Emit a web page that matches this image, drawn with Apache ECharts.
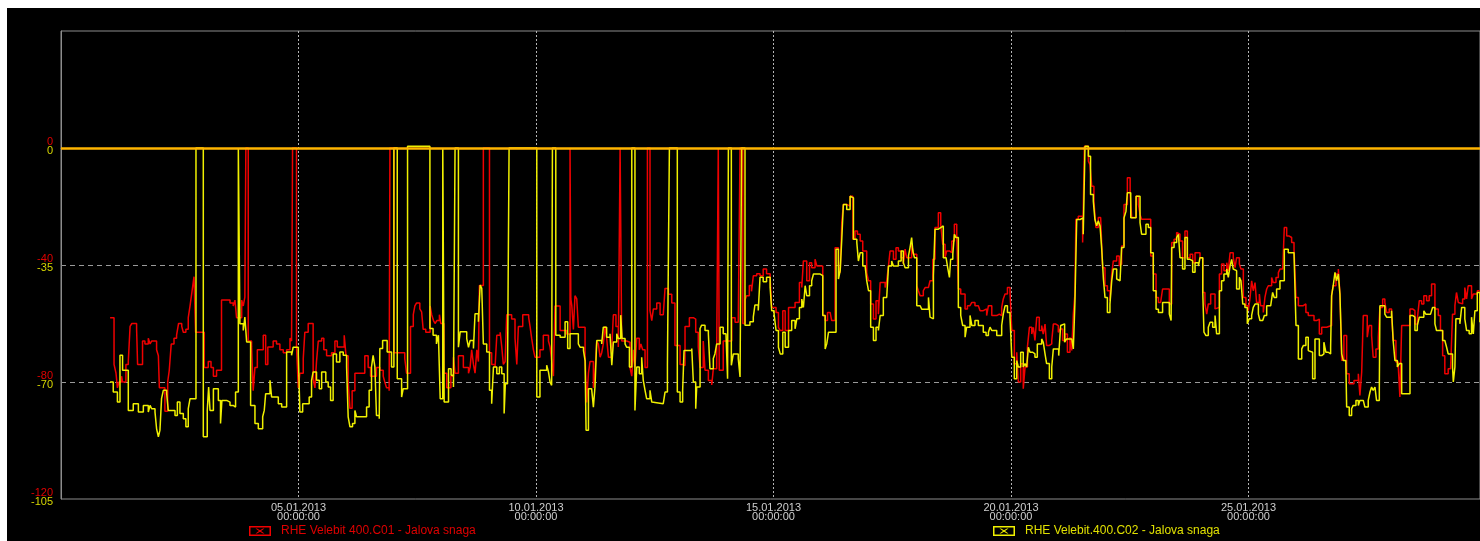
<!DOCTYPE html>
<html>
<head>
<meta charset="utf-8">
<script src="https://cdn.jsdelivr.net/npm/echarts@6/dist/echarts.min.js"></script>
<style>
    body { margin: 0; background: #fff; }
    #chart { position: absolute; left: 7px; top: 8px; width: 1473px; height: 533px; background: #000; }
</style>
</head>
<body>
<div id="chart"></div>
<script>
// hours since 01.01.2013 00:00, value
let redName = 'RHE Velebit 400.C01 - Jalova snaga';
let yellowName = 'RHE Velebit.400.C02 - Jalova snaga';

// the two value axes share the same tick rows
let redTicks = [0, -40, -80, -120];
let yellowTicks = [0, -35, -70, -105];

let redPoints = [
    [0.8,-58],[2.8,-74],[3.8,-77],[4.5,-82],[5.3,-80],[6.6,-78],[7.1,-80],[8.8,-74],[10,-73],[10.9,-61],[11.8,-60],[14.2,-62],[14.7,-74],[17.2,-66],[18.4,-67],[20.1,-65],[21,-67],[21.8,-66],[24.3,-69],[25.2,-71],[25.7,-82],[28.5,-90],[29.9,-80],[30.7,-76],[31.7,-67],[33.1,-65],[34.4,-64],[35.4,-60],[37,-61],[37.8,-63],[39.1,-62],[40.3,-58],[41.2,-54],[42.2,-49],[43.2,-44],[44,-63],[48.4,-75],[50.4,-73],[51.8,-75],[53,-78],[54.6,-76],[57.1,-52],[61.4,-53],[63,-54],[63.9,-52],[64.7,-58],[67.3,-52],[68.1,-54],[68.9,-51],[69.4,0],[70.6,-66],[72.3,-68],[73.1,-83],[74,-75],[75.2,-69],[78.2,-64],[79.4,-74],[80.5,-68],[83.2,-66],[84.9,-67],[86.6,-69],[88.3,-70],[90,-69],[91.7,-65],[92.5,-66],[93,0],[95,-68],[95.9,-82],[96.7,-77],[98.4,-72],[99.2,-63],[100.9,-60],[103.4,-79],[104.3,-82],[105.1,-73],[106,-66],[107.7,-65],[108.8,-69],[110.2,-71],[112.7,-70],[114.4,-66],[115.6,-68],[119.1,-64],[120,-71],[121.1,-80],[122,-89],[123.1,-83],[124.5,-77],[129.5,-71],[131.2,-75],[132.4,-78],[135.4,-75],[137.1,-76],[138.8,-78],[139.6,-80],[140.5,-82],[141.8,-83],[142.2,0],[144.2,-70],[149.7,-72],[150.6,-77],[152.6,-61],[154,-57],[154.8,-54],[155.6,-53],[157.3,-55],[158.2,-56],[159,-62],[160.3,-63],
    [162.5,-54],[163.3,-57],[164.2,-59],[165,-60],[165.9,-59],[167.2,-57],[167.9,-60],[169.5,-77],[170.9,-82],[173,-78],[174.3,-71.5],[175.1,-77],[176.8,-71],[179.3,-75],[181.9,-77],[182.7,-75],[183.5,-69],[184.4,-74],[185.2,-77],[186.1,-69],[186.9,-73],[187.4,-47],[189.4,0],[192.5,-70],[193.6,-74],[195.3,-75],[196.2,-64],[197.9,-63],[198.7,-68],[199.5,-74],[200.4,-73],[201.2,-57],[203.7,-58.5],[205.4,-65],[206.3,-74],[207.1,-61],[209.3,-57],[212.3,-58],[213,-61],[213.8,-65],[214.7,-69],[215.5,-71.5],[218,-69],[219.7,-64],[222.3,-66],[223.1,-68],[223.9,-72.6],[224.8,-78],[225.6,-54],[228.2,-62.4],[231.5,-63.6],[233.2,0],[233.6,-51.6],[234.1,-54],[234.9,-62],[235.7,-50.5],[236.6,-51.6],[237.4,-61.3],[240.8,-71],[241.6,-87],[242.5,-77],[243.3,-73],[245,-82],[245.8,-77],[246.7,-66],[247.5,-67],[248.4,-71.5],[249.2,-70],[250,-67],[250.9,-61],[251.7,-65],[252.6,-71.5],[254.3,-68],[255.1,-57],[256.4,-61],[257.6,-68],[258.5,0],[259.3,-66],[261.8,-66.4],[263.5,-75],[264.4,-78],[265.2,-69],[266,-75],[266.9,-65],[268.2,-69],[269,-67],[269.9,-69],[271.1,-75],[272.3,0],[273.6,-55.6],[274.5,-59],[275.3,-55],[277,-53],[278.7,-57],[280.3,-57],[281.2,-48],[282.9,-50],[284.6,-53],[286.2,-67.5],[288.8,-74],[290.1,-74.4],[291.3,-61],[293.5,-58],[295.5,-58.5],[296.7,-63],[298,-68],[298.9,-75],[300.5,-66],[301.4,-76],[303.1,-79.5],[304.8,-81],[305.6,-75.5],[307.3,-69],[308.1,0],[308.6,-76],[310.6,-66],[314.9,-58],[316.6,-59.6],[318.2,-60],[319.1,0],[320.5,-60],[321.6,-52],[322.4,-50.5],[323.8,-47],[324.9,-49],[325.8,-43.7],[327.5,-43],[329.2,-43.7],[330.8,-41.4],[332.5,-43],
    [334.3,-44.3],[335.1,-54.5],[337.3,-56.2],[338.5,-61.3],[339.4,-62.4],[340.7,-55.6],[341.9,-62.4],[343.6,-54.5],[346.9,-52.8],[349.1,-46],[350.3,-47.7],[351.1,-38.6],[352.8,-45.4],[354.2,-39.2],[355.3,-40.9],[357,-38],[357.9,-40.3],[360.9,-57.3],[362.1,-59],[363.3,-56.2],[364.6,-56.8],[365.4,-59],[367.1,-34.1],[368.8,-40.3],[369.7,-42.6],[370.5,-25.5],[371.3,-19.3],[373,-19.9],[374.7,-16.5],[376.1,-31.2],[377.2,-28.4],[378.4,-29.5],[379.8,-31.8],[381.1,-35.2],[383.1,-42.6],[384,-45.4],[385.1,-53.3],[386.5,-58.5],[387.8,-52.2],[389,-56.8],[389.9,-46],[392.4,-47.7],[393.2,-45.4],[394.1,-40.3],[394.9,-35.2],[396.6,-38],[397.9,-34.1],[399.1,-35.2],[400.5,-37.5],[401.6,-39.7],[402.5,-34.6],[403.3,-37.5],[405.8,-32.9],[406.7,-36.3],[408.4,-47.1],[409.2,-48.8],[410.1,-50.5],[411.7,-48.8],[412.6,-47.7],[414.3,-47.1],[415.1,-45.4],[416.5,-38],[417.6,-27.2],[419.3,-22.1],[420.5,-26.1],[421.5,-32.9],[422.7,-37.5],[423.5,-35.2],[424.9,-35.8],[426.1,-31.8],[427.4,-26.1],[428.6,-30.6],[429.4,-48.2],[430.6,-49.9],[432.8,-55],[434,-53.9],[435.3,-54.5],[436.2,-52.8],[437.8,-53.9],[439.5,-54.5],[440.4,-55.6],[442,-55],[443.7,-57.3],[444.6,-53.9],[446.3,-57.3],[448.8,-56.8],[450.1,-57.3],[451.3,-54.5],[452.1,-51.6],[453,-49.9],[454.2,-47.7],[455.5,-49.4],[456.4,-62.4],[457.7,-73.8],[458.9,-69.8],[459.7,-80],[460.9,-73.8],[462.2,-82.3],[463.1,-74.9],[464.3,-68.1],[465.3,-61.3],[466.5,-63.6],[467.3,-61.3],[468.1,-65.8],[469,-57.9],[470.3,-62.4],[471.5,-60.7],[472.3,-63.6],[473.2,-60.2],[474,-67.5],[475.4,-67],[476.6,-65.8],[477.4,-60.2],[478.7,-60.7],[479.9,-63],[480.8,-61.9],[482.1,-65.8],[483.3,-63.6],[484.5,-69.8],[485.8,-64.7],[486.7,-69.2],[487.5,-56.8],[488.3,-49.9],[488.8,-24.4],[490,-23.3],[492.2,-32.3],[493.1,0.6],[495.1,-4.5],[495.9,-5.7],[496.8,-13.1],[497.9,-18.2],[498.9,-27.2],[500.1,-23.8],[501.3,-24.4],[502.3,-40.9],[503.5,-47.1],[504.7,-48.8],[506,-52.2],[506.9,-43.1],[507.7,-38.6],[509.4,-36.9],[510.7,-40.3],
    [511.1,-39.7],[511.9,-33.5],[513.1,-19.3],[514.8,-10.2],[516.2,-15.9],[517,-23.8],[519.2,-16.5],[520.4,-19.3],[521.2,-22.7],[522,-24.4],[523.2,-23.8],[524.2,-24.4],[526.6,-36.9],[527.9,-43.1],[529.3,-51.1],[530.5,-52.8],[531.6,-52.2],[532.6,-48.2],[536,-53.3],[537.2,-32.3],[538.4,-31.2],[539.7,-28.9],[540.6,-29.5],[541.4,-31.8],[542.7,-37.5],[543.9,-28.4],[545.1,-37.5],[546.5,-36.3],[547.8,-39.2],[549,-35.8],[551.5,-37.5],[552.9,-49.4],[554,-53.3],[554.9,-56.8],[555.7,-53.3],[556.9,-49.9],[559.1,-55],[559.9,-54.5],[561.3,-43.1],[562.4,-39.7],[563.6,-42],[565,-39.2],[565.8,-42],[566.7,-35.8],[568.3,-37.5],[569.2,-40.9],[570,-37.5],[571.4,-39.7],[572.2,-41.4],[573.4,-51.1],[574.7,-53.9],[575.9,-55.6],[576.8,-51.1],[577.6,-45.4],[578.4,-48.8],[579.3,-46],[580.1,-52.8],[581.5,-49.9],[582.1,-53.9],[583.5,-56.2],[584.3,-51.1],[585.2,-48.2],[586,-47.1],[587.7,-44.3],[588.5,-46],[589.9,-44.3],[591.1,-42.6],[591.9,-41.4],[593.3,-40.9],[594.1,-27.2],[595.3,-30.1],[596.6,-30.6],[597.8,-32.3],[599,-34.6],[600,-51.1],[601.2,-53.9],[603.7,-53.3],[605,-56.2],[606.2,-57.3],[609.1,-59],[610.4,-58.5],[611.8,-63.6],[613,-61.3],[615.5,-60.7],[618,-50.5],[618.8,-47.1],[620.2,-43.1],[621.4,-41.4],[622.2,-49.9],[623.1,-72.6],[624.2,-64.1],[625.6,-77.2],[626.9,-80.6],[629.3,-79.5],[631.5,-77.2],[632.3,-84.6],[633.2,-76.6],[634,-57.3],[636,-64.7],[636.9,-60.7],[638.2,-64.1],[639,-71.5],[640.4,-68.7],[641.6,-64.7],[642.4,-54.5],[643.8,-51.6],[644.9,-52.8],[645.8,-56.2],[647.1,-55],[648.3,-56.8],[649.1,-65.8],[650.5,-73.2],[651.7,-74.9],[652.5,-85.1],[653.4,-60.7],[657.6,-55],[658.9,-55.6],[660.1,-60.2],[661.3,-58.5],[662.3,-52.2],[663.5,-53.3],[664.6,-50.5],[666,-52.2],[667.3,-50.5],[668.5,-46.5],[670.2,-55],[671.9,-57.3],[673,-62.4],[674.1,-71],[675.2,-77.2],[676.9,-75.5],[678.1,-74.9],[679.1,-56.8],[680.3,-53.9],[681.1,-49.4],[682,-52.8],[682.8,-53.3],[684.2,-51.6],[685.3,-47.7],[686.2,-51.6],[687,-47.1],[688.7,-51.6],[689.6,-49.9],[691.6,-48.8],[692.9,-48.8]
];

let yellowPoints = [
    [0.8,-70],[2.4,-73],[4.5,-76],[5.8,-62],[7.1,-66.5],[10,-78.5],[12.5,-76.5],[15.1,-79],[17.6,-77],[20.1,-79],[21,-77],[21.8,-78],[23.5,-79],[24.3,-84],[25.2,-86.4],[26,-84.4],[26.8,-75],[27.7,-72.5],[29.4,-73.5],[30.2,-78.5],[33.6,-80],[34.8,-76],[36.1,-79.4],[37.8,-81],[39.1,-83.4],[40.3,-78],[41.2,-75],[44.2,0],[47.9,-86.4],[49.9,-78.5],[50.6,-71.5],[51.3,-78.5],[53,-72],[55.5,-75.5],[56.6,-82.4],[57.3,-75.5],[59.7,-76],[61.4,-77],[63,-77.5],[64.2,-73],[65.6,0],[66.4,-52.6],[68.1,-54.6],[68.9,-50.6],[69.8,-58],[71.8,-77],[74,-82.4],[75.7,-84],[77.9,-80.4],[78.7,-78.5],[79.4,-73.5],[81.6,-69.5],[82.4,-74.5],[85.8,-76.5],[87.5,-77.5],[90,-61],[92.5,-62],[93.3,-59.6],[95.9,-61.6],[96.7,-79],[98.1,-76.5],[101.4,-74.5],[102.6,-69.5],[103.4,-67],[105.1,-69.5],[106.5,-72],[107.7,-67],[109.8,-70],[111,-71.5],[112.2,-75.5],[113.5,-61.6],[115.2,-64],[116.9,-61],[118.6,-62],[120.3,-65.5],[121.1,-80.4],[122,-83.4],[123.3,-82.4],[124.5,-78.5],[125.3,-80.4],[130.4,-77.5],[131.7,-72.5],[132.9,-65.5],[133.7,-62],[134.6,-65.5],[135.4,-80],[136.8,-81],[137.1,-60],[138.5,-57.6],[140.8,-61],[143,-65.5],[144.2,0],[145.9,-69],[148.1,-74.5],[148.9,-72],[151.1,0.5],[162.4,-54],[164,-56],[165.7,-58.6],[166.7,-56],
    [167.6,-75],[168.9,0],[169.6,-76],[171.8,-66],[173.1,-68],[174.3,-71.5],[175.1,0],[176.8,-59.6],[177.7,-55],[181,-57],[181.9,-59.6],[182.7,-57.6],[184.4,-60],[185.2,-49.6],[186.9,-52],[187.8,-41],[188.6,-42],[189.4,-58.6],[191.1,-61],[192.5,-72.5],[193.6,-76.5],[194.5,-65.5],[196.2,-67.5],[197.5,-65.5],[198.7,-67.5],[199.9,-79.4],[200.5,-70.5],[201.6,-67.5],[202.4,0],[216.4,-74.5],[218,-66.5],[221.4,-65],[222.3,-67],[223.1,-70],[223.9,-71],[224.3,0],[226,-56],[228.2,-56.6],[230.7,-52],[232,-60],[233.2,-55.6],[237.4,-58.6],[238.3,-59.6],[240,-60.6],[240.8,-63.6],[241.3,-84.4],[242.5,-72],[244.1,-71.5],[245,-77.5],[245.8,-71.5],[246.7,-57.6],[249.2,-58.6],[250,-53.6],[251.7,-56.6],[253.4,-55.6],[254.3,-65],[255.1,-58],[256.8,-55.6],[257.6,-57],[258.8,-50],[259.5,-57],[261,-58.6],[261.8,-59.6],[263.2,-65.5],[264.4,0],[266,-78.5],[266.9,-65.5],[268.2,-67.5],[269.4,-62.6],[270.2,-69.5],[271.1,-72.5],[271.9,-75],[273.6,-72.5],[274.5,-76],[275.3,-76.5],[280.3,-76],[281.2,-73],[282.4,-65],[283.4,0],[287.4,-73],[288.8,-76],[290.1,-72.5],[290.8,-60.6],[294.7,-60],[295.5,-70],[296.7,-78],[297.2,-71.5],[298.9,-54],[299.7,-53],[301.4,-54.6],[303.1,-55.6],[303.9,-66],[305.6,-63],[306.4,-61.6],[307.3,-58.6],[309,-53.6],[310.6,-55.6],[312,-56],[312.8,-69],[313.2,0],[314.7,-65],[315.7,-61.6],[318.2,-63],[319.1,-68.5],[319.9,0],[321.6,-53],[324.1,-52],[325.8,-50.6],[326.6,-47],[328.3,-48.6],[329.2,-38.7],[330.8,-40],[332.5,-38.7],
    [334.3,-41.7],[335.1,-48.7],[336.3,-49.7],[337.3,-54.6],[338.5,-59.6],[339.4,-61.6],[340.7,-55.1],[341.9,-59.6],[343.6,-54.6],[345.2,-51.6],[346.9,-54.1],[347.8,-51.1],[349.1,-47.7],[350.3,-45.2],[351.1,-47.7],[352,-41.2],[352.8,-44.2],[354.2,-41.2],[355.3,-39.7],[356.2,-37.7],[359.6,-38.2],[360.9,-50.1],[362.1,-60.1],[362.9,-58.6],[363.8,-55.1],[367.6,-30.3],[368.8,-39.2],[369.7,-36.7],[370.5,-27.3],[371.3,-16.9],[373,-18.4],[374.7,-14.4],[375.5,-14.9],[376.4,-27.3],[378.1,-28.3],[378.9,-33.8],[379.8,-31.3],[381.1,-35.3],[382.3,-35.8],[383.1,-39.7],[384,-42.7],[385.1,-53.6],[386.5,-57.6],[387.8,-53.6],[389,-54.6],[389.9,-50.1],[391.5,-44.7],[393.2,-45.2],[394.1,-35.3],[395.7,-33.8],[396.6,-35.3],[399.1,-33.8],[400.5,-30.8],[401.6,-34.3],[402.5,-35.8],[404.2,-32.3],[405,-29.8],[405.8,-26.8],[406.4,-30.8],[407.2,-32.8],[408.4,-47.2],[410.1,-47.7],[410.9,-48.2],[414.3,-44.7],[415.1,-50.6],[415.9,-51.1],[416.8,-38.2],[417.6,-24.3],[419.3,-23.8],[420.5,-23.3],[421.8,-32.8],[423.2,-33.3],[424,-35.8],[424.9,-38.7],[425.5,-33.3],[426.6,-31.8],[427.4,-25.8],[428.2,-26.8],[429.4,-47.7],[430.6,-50.1],[431.6,-53.1],[432.8,-56.6],[433.6,-53.6],[435.3,-50.1],[436.2,-53.1],[437.8,-51.6],[439.5,-53.1],[442,-55.1],[443.4,-56.1],[444.6,-55.1],[445.4,-53.6],[446.3,-54.6],[448.8,-56.1],[451.3,-53.1],[452.1,-49.7],[453,-47.2],[454.2,-49.2],[455.5,-50.6],[456.4,-62.6],[457.7,-69],[458.9,-63.6],[459.7,-65.5],[460.9,-61.1],[462.2,-65.5],[463.1,-64.5],[463.9,-65.5],[464.8,-59.6],[465.6,-61.1],[467,-61.6],[468.1,-62.6],[469.3,-58.6],[471.5,-57.1],[472.3,-58.1],[473.2,-61.6],[474,-64.5],[475.4,-69],[476.6,-65.5],[477.4,-60.1],[480.1,-62.1],[481.1,-53.1],[482.1,-52.6],[483.1,-58.1],[484.1,-57.1],[486.7,-57.1],[487.5,-60.1],[488.3,-46.2],[489.2,-21.4],[490.9,-20.9],[492.5,-25.8],[493.4,0.5],[495.1,-2.5],[496.2,-13.9],[497.6,-15.9],[498.4,-21.4],[499.3,-23.3],[500.1,-21.8],[501,-23.3],[501.8,-29.8],[502.7,-39.2],[503.5,-44.7],[504.7,-49.2],[506,-46.7],[506.9,-39.7],[507.7,-36.2],[509.4,-39.2],[510.2,-39.7],
    [511.1,-39.2],[511.9,-29.8],[513.1,-20.9],[514.1,-18.9],[514.8,-13.4],[516.5,-20.9],[519.2,-14.4],[521.2,-22.3],[522,-25.8],[524.2,-22.8],[525.4,-23.8],[526.6,-31.3],[527.9,-42.7],[529.3,-48.2],[530.5,-49.2],[532.6,-46.2],[533.8,-46.7],[534.7,-46.2],[536,-49.7],[536.9,-51.6],[537.2,-29.8],[538.4,-28.3],[539.7,-26.8],[540.6,-25.8],[541.4,-32.8],[542.7,-36.2],[543.9,-26.8],[545.1,-33.3],[546.5,-33.8],[547.8,-37.2],[549,-34.3],[550.7,-35.3],[551.5,-32.8],[552.9,-43.2],[553.5,-55.1],[554.5,-56.1],[555.7,-53.6],[556.6,-52.1],[557.9,-53.6],[559.1,-50.1],[559.9,-55.6],[561.3,-42.7],[562.4,-39.7],[563.6,-37.7],[565,-36.2],[565.8,-38.7],[566.7,-35.3],[567.5,-33.3],[568.3,-36.2],[569.2,-36.7],[570,-42.2],[571.4,-38.7],[572.2,-39.7],[573.1,-46.7],[574.2,-47.7],[575.4,-52.6],[576.4,-51.1],[577.6,-50.1],[578.4,-47.7],[579.3,-46.7],[581,-49.7],[581.8,-51.6],[583.2,-52.1],[584,-50.1],[585.2,-47.2],[587.2,-46.7],[588.2,-43.2],[589,-44.7],[590.2,-42.2],[591.9,-39.7],[594.1,-30.3],[596.1,-31.3],[599,-31.3],[600,-53.1],[601.2,-63.1],[602.9,-60.1],[603.7,-59.1],[605,-56.6],[606.2,-60.6],[607.1,-61.1],[608.4,-69],[609.6,-57.1],[611.8,-62.1],[613,-61.6],[614.1,-58.1],[615.1,-61.1],[616.3,-61.6],[617.5,-59.6],[618,-44.2],[618.8,-41.2],[619.7,-37.2],[620.5,-39.7],[621.4,-37.7],[622.2,-43.7],[623.1,-61.6],[623.9,-63.6],[625.2,-64.5],[625.6,-77.5],[626.9,-80],[628.1,-78],[628.9,-77],[630.3,-75.5],[631.5,-77],[632.3,-75.5],[634,-75.5],[634.8,-77.5],[636.5,-75.5],[637.4,-73],[638.2,-71.5],[639,-72.5],[639.9,-71.5],[640.7,-75.5],[642.1,-72],[642.4,-47.2],[644.9,-49.7],[645.8,-50.6],[648.3,-48.7],[649.1,-57.6],[650,-63.6],[651.2,-65.5],[652.2,-64.5],[653.4,-73.5],[657.6,-50.1],[658.9,-50.6],[660.1,-54.6],[661.3,-53.1],[662.3,-50.6],[664.6,-48.7],[665.6,-49.7],[668,-49.2],[669,-47.7],[670.2,-52.6],[671,-54.6],[673,-54.6],[674.1,-57.6],[675.2,-57.1],[676.1,-59.6],[676.9,-61.6],[679.1,-65.5],[679.5,-70],[680.3,-65.5],[680.8,-51.1],[682.8,-52.6],[683.7,-47.7],[685.3,-51.1],[686.2,-54.6],[687.5,-55.6],[688.7,-50.6],[689.6,-55.6],[690.4,-48.7],[691.6,-43.2],[692.9,-52.1]
];

// x axis runs in days from 31.12.2012 00:00
function toDays(points) {
    return points.map(p => [1 + p[0] / 24, p[1]]);
}

function dateLabel(day) {
    let d = new Date(Date.UTC(2012, 11, 31) + day * 86400000);
    let dd = String(d.getUTCDate()).padStart(2, '0');
    let mm = String(d.getUTCMonth() + 1).padStart(2, '0');
    return dd + '.' + mm + '.' + d.getUTCFullYear() + '\n00:00:00';
}

// red label on top, yellow label of the same row under it
function valueLabel(v) {
    let i = redTicks.indexOf(v);
    if (i < 0) return '';
    return '{r|' + redTicks[i] + '}\n{y|' + yellowTicks[i] + '}';
}

let boxIcon = 'path://M0,0L22,0L22,10L0,10Z M1.5,1.5L1.5,8.5L20.5,8.5L20.5,1.5Z M6.5,2.5L8,2.5L11,4.3L14,2.5L15.5,2.5L12,5L15.5,7.5L14,7.5L11,5.7L8,7.5L6.5,7.5L10,5Z';

let option = {
    backgroundColor: '#000',
    animation: false,
    textStyle: { fontFamily: 'Liberation Sans, Arial, sans-serif' },
    grid: { left: 54, right: 0, top: 23, bottom: 42, show: true, borderColor: '#8c8c8c', borderWidth: 1 },
    legend: [
        {
            data: [redName], left: 237, top: 512, selectedMode: false,
            icon: boxIcon, itemWidth: 22, itemHeight: 10,
            textStyle: { color: '#e00000', fontSize: 12, padding: [0, 0, 0, 5] }
        },
        {
            data: [yellowName], left: 981, top: 512, selectedMode: false,
            icon: boxIcon, itemWidth: 22, itemHeight: 10,
            textStyle: { color: '#e0e000', fontSize: 12, padding: [0, 0, 0, 5] }
        }
    ],
    xAxis: {
        type: 'value',
        min: 0,
        max: 29.874,
        interval: 5,
        axisLine: { lineStyle: { color: '#8c8c8c' } },
        axisTick: { show: false },
        splitLine: { show: true, showMinLine: false, lineStyle: { color: '#b4b4b4', type: [2, 2] } },
        axisLabel: {
            color: '#cfcfcf', fontSize: 11, lineHeight: 9, margin: 4,
            showMinLabel: false, showMaxLabel: false,
            formatter: dateLabel
        }
    },
    yAxis: [
        {
            type: 'value', min: -120, max: 40, interval: 40, position: 'left',
            axisLine: { show: true, lineStyle: { color: '#8c8c8c' } },
            axisTick: { show: false },
            splitLine: { show: true, showMinLine: false, showMaxLine: false, lineStyle: { color: '#9a9a9a', type: [5, 4] } },
            axisLabel: {
                margin: 8, padding: [0, 0, 3, 0],
                formatter: valueLabel,
                rich: {
                    r: { color: '#e00000', fontSize: 11, lineHeight: 9, align: 'right' },
                    y: { color: '#d6d600', fontSize: 11, lineHeight: 9, align: 'right' }
                }
            }
        },
        {
            type: 'value', min: -105, max: 35, interval: 35, position: 'left',
            axisLine: { show: false },
            axisTick: { show: false },
            splitLine: { show: false },
            axisLabel: { show: false }
        }
    ],
    series: [
        {
            name: redName,
            type: 'line',
            yAxisIndex: 0,
            step: 'end',
            showSymbol: false,
            data: toDays(redPoints),
            itemStyle: { color: '#f00000' },
            lineStyle: { color: '#f00000', width: 1.5 },
            z: 2
        },
        {
            name: yellowName,
            type: 'line',
            yAxisIndex: 1,
            step: 'end',
            showSymbol: false,
            data: toDays(yellowPoints),
            itemStyle: { color: '#f0f000' },
            lineStyle: { color: '#f0f000', width: 1.5 },
            z: 3,
            markLine: {
                silent: true,
                symbol: ['none', 'none'],
                label: { show: false },
                lineStyle: { color: '#ffb400', width: 2.5, type: 'solid' },
                data: [{ yAxis: 0 }]
            }
        }
    ]
};

let chart = echarts.init(document.getElementById('chart'));
chart.setOption(option);
</script>
</body>
</html>
